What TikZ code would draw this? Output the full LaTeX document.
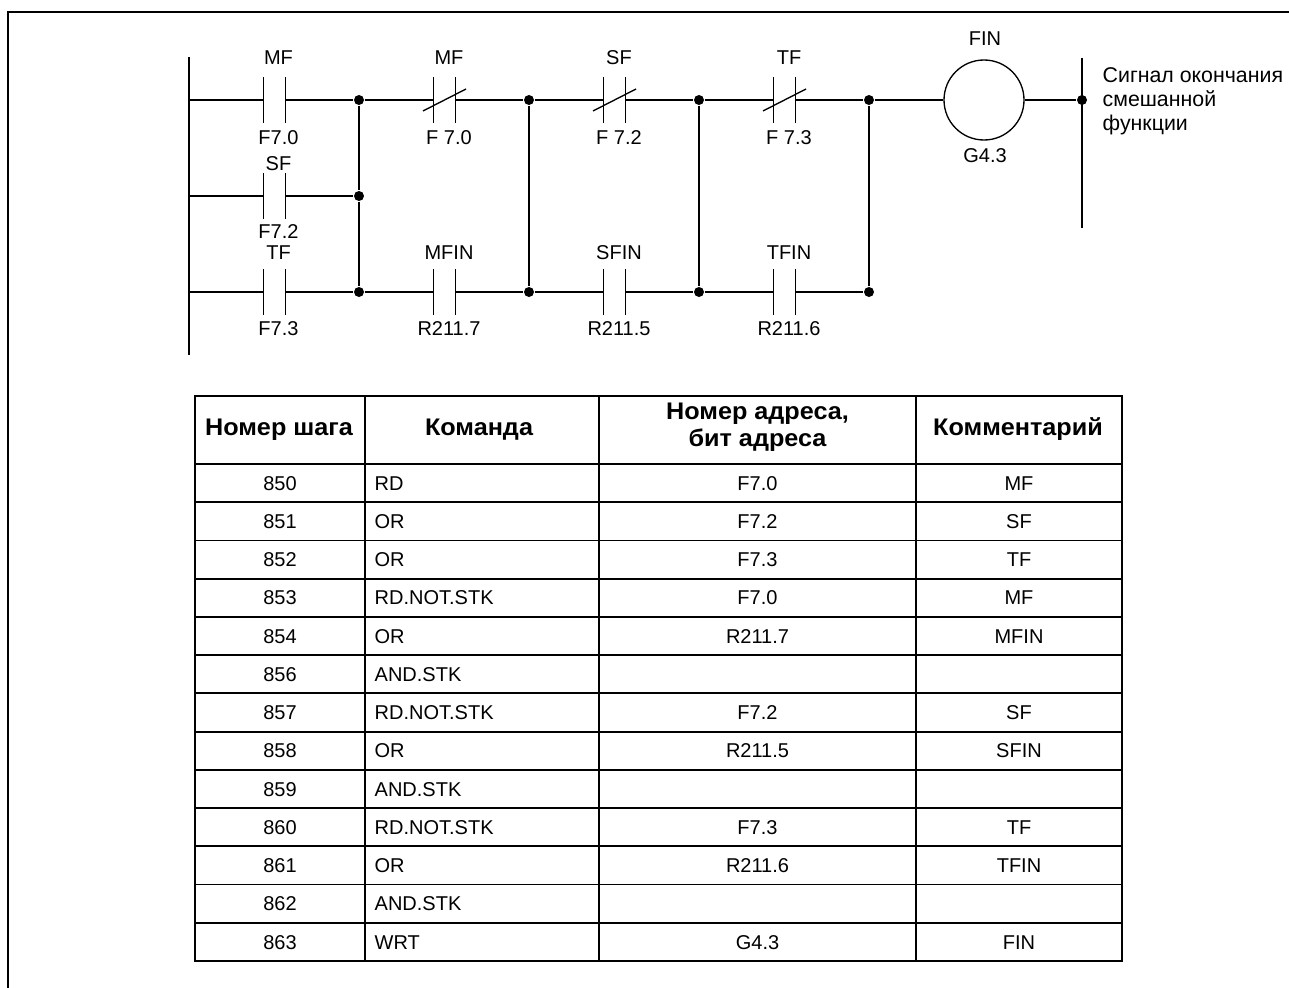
\documentclass[tikz,border=0pt]{standalone}
\usepackage{fontspec}
\setmainfont{Liberation Sans}
\newfontface\hdrface[FakeStretch=1.05]{Liberation Sans Bold}
\begin{document}
\begin{tikzpicture}[x=0.75pt,y=-0.75pt,line width=1pt,
  dot/.style={circle,fill,inner sep=0pt,minimum size=7.5pt},
  nocon/.style={inner sep=0pt,minimum width=15.75pt,minimum height=33pt,
    append after command={(\tikzlastnode.north west) edge (\tikzlastnode.south west)
      (\tikzlastnode.north east) edge (\tikzlastnode.south east)}},
  nccon/.style={nocon,
    append after command={([shift={(-21.5,11)}]\tikzlastnode.center) edge ([shift={(21.5,-11)}]\tikzlastnode.center)}},
  lbl/.style={font=\fontsize{15}{18}\selectfont,inner sep=0pt,text height=10.74pt,text depth=0pt},
  hdr/.style={font=\hdrface\fontsize{18}{18}\selectfont,inner sep=0pt,anchor=base},
  tline/.style={line width=1.35pt},
  tout/.style={line width=1.9pt}]
\useasboundingbox (0,0) rectangle (1289,988);
% frame
\coordinate (fa) at (8,988);
\coordinate (fb) at (8,12.5);
\coordinate (fc) at (1289,12.5);
\draw[line width=1.5pt] (fa) -- (fb) -- (fc);

% rails
\coordinate (lt) at (189,57);
\coordinate (lb) at (189,355);
\coordinate (r1) at (189,100);
\coordinate (r2) at (189,196);
\coordinate (r3) at (189,292);
\draw (lt) -- (lb);
\coordinate (rt) at (1082,58);
\coordinate (rb) at (1082,228);
\draw (rt) -- (rb);

% junctions
\node[dot] (j1a) at (359,100) {};
\node[dot] (j1b) at (359,196) {};
\node[dot] (j1c) at (359,292) {};
\node[dot] (j2a) at (529,100) {};
\node[dot] (j2c) at (529,292) {};
\node[dot] (j3a) at (699,100) {};
\node[dot] (j3c) at (699,292) {};
\node[dot] (j4a) at (869,100) {};
\node[dot] (j4c) at (869,292) {};
\node[dot] (jr) at (1082,100) {};

% contacts
\node[nocon] (cmf) at (274.5,100) {};
\node[nocon] (csf) at (274.5,196) {};
\node[nocon] (ctf) at (274.5,292) {};
\node[nccon] (nmf) at (444.5,100) {};
\node[nccon] (nsf) at (614.5,100) {};
\node[nccon] (ntf) at (784.5,100) {};
\node[nocon] (cmfin) at (444.5,292) {};
\node[nocon] (csfin) at (614.5,292) {};
\node[nocon] (ctfin) at (784.5,292) {};
\node[circle,draw,inner sep=0pt,minimum size=60pt] (coil) at (984,100) {};

% wires
\draw (r1) -- (cmf) -- (j1a) -- (nmf) -- (j2a) -- (nsf) -- (j3a) -- (ntf) -- (j4a) -- (coil) -- (jr);
\draw (r2) -- (csf) -- (j1b);
\draw (r3) -- (ctf) -- (j1c) -- (cmfin) -- (j2c) -- (csfin) -- (j3c) -- (ctfin) -- (j4c);
\draw (j1a) -- (j1b) -- (j1c);
\draw (j2a) -- (j2c);
\draw (j3a) -- (j3c);
\draw (j4a) -- (j4c);

% ladder labels
\node[lbl] (t1) at (278.5,57) {MF};
\node[lbl] (b1) at (278.5,137) {F7.0};
\node[lbl] (t2) at (278.5,163) {SF};
\node[lbl] (b2) at (278.5,231) {F7.2};
\node[lbl] (t3) at (278.5,252) {TF};
\node[lbl] (b3) at (278.5,328) {F7.3};
\node[lbl] (t4) at (449,57) {MF};
\node[lbl] (b4) at (449,137) {F 7.0};
\node[lbl] (t5) at (619,57) {SF};
\node[lbl] (b5) at (619,137) {F 7.2};
\node[lbl] (t6) at (789,57) {TF};
\node[lbl] (b6) at (789,137) {F 7.3};
\node[lbl] (t7) at (449,252) {MFIN};
\node[lbl] (b7) at (449,328) {R211.7};
\node[lbl] (t8) at (619,252) {SFIN};
\node[lbl] (b8) at (619,328) {R211.5};
\node[lbl] (t9) at (789,252) {TFIN};
\node[lbl] (b9) at (789,328) {R211.6};
\node[lbl] (tfin) at (985,38) {FIN};
\node[lbl] (bfin) at (985,155) {G4.3};
\node[font=\fontsize{16}{18}\selectfont,inner sep=0pt,align=left,anchor=west] (sig) at (1102,101)
  {Сигнал окончания\\смешанной\\функции};

% table
\def\rh{38.23}
\foreach \i in {1,...,12}{
  \draw[tline] (195,464+\i*\rh) -- (1122,464+\i*\rh);
}
\draw[line width=1.5pt] (195,464) -- (1122,464);
\draw[tline] (365,396) -- (365,961);
\draw[tline] (599,396) -- (599,961);
\draw[tline] (916,396) -- (916,961);
\draw[tout] (195,396) rectangle (1122,961);

\node[hdr] (h1) at (279,435) {Номер шага};
\node[hdr] (h2) at (479,435) {Команда};
\node[hdr] (h3a) at (757.5,419) {Номер адреса,};
\node[hdr] (h3b) at (757.5,446) {бит адреса};
\node[hdr] (h4) at (1018,435) {Комментарий};

\foreach \n/\c/\a/\k [count=\i from 0] in {850/RD/F7.0/MF, 851/OR/F7.2/SF, 852/OR/F7.3/TF,
  853/RD.NOT.STK/F7.0/MF, 854/OR/R211.7/MFIN, 856/AND.STK//, 857/RD.NOT.STK/F7.2/SF,
  858/OR/R211.5/SFIN, 859/AND.STK//, 860/RD.NOT.STK/F7.3/TF, 861/OR/R211.6/TFIN,
  862/AND.STK//, 863/WRT/G4.3/FIN}{
  \pgfmathsetmacro{\yy}{464+(\i+0.5)*\rh}
  \node[lbl] (rn\i) at (280,\yy) {\n};
  \node[lbl,anchor=west] (rc\i) at (374,\yy) {\c};
  \node[lbl] (ra\i) at (757.5,\yy) {\a};
  \node[lbl] (rk\i) at (1019,\yy) {\k};
}
\end{tikzpicture}
\end{document}
